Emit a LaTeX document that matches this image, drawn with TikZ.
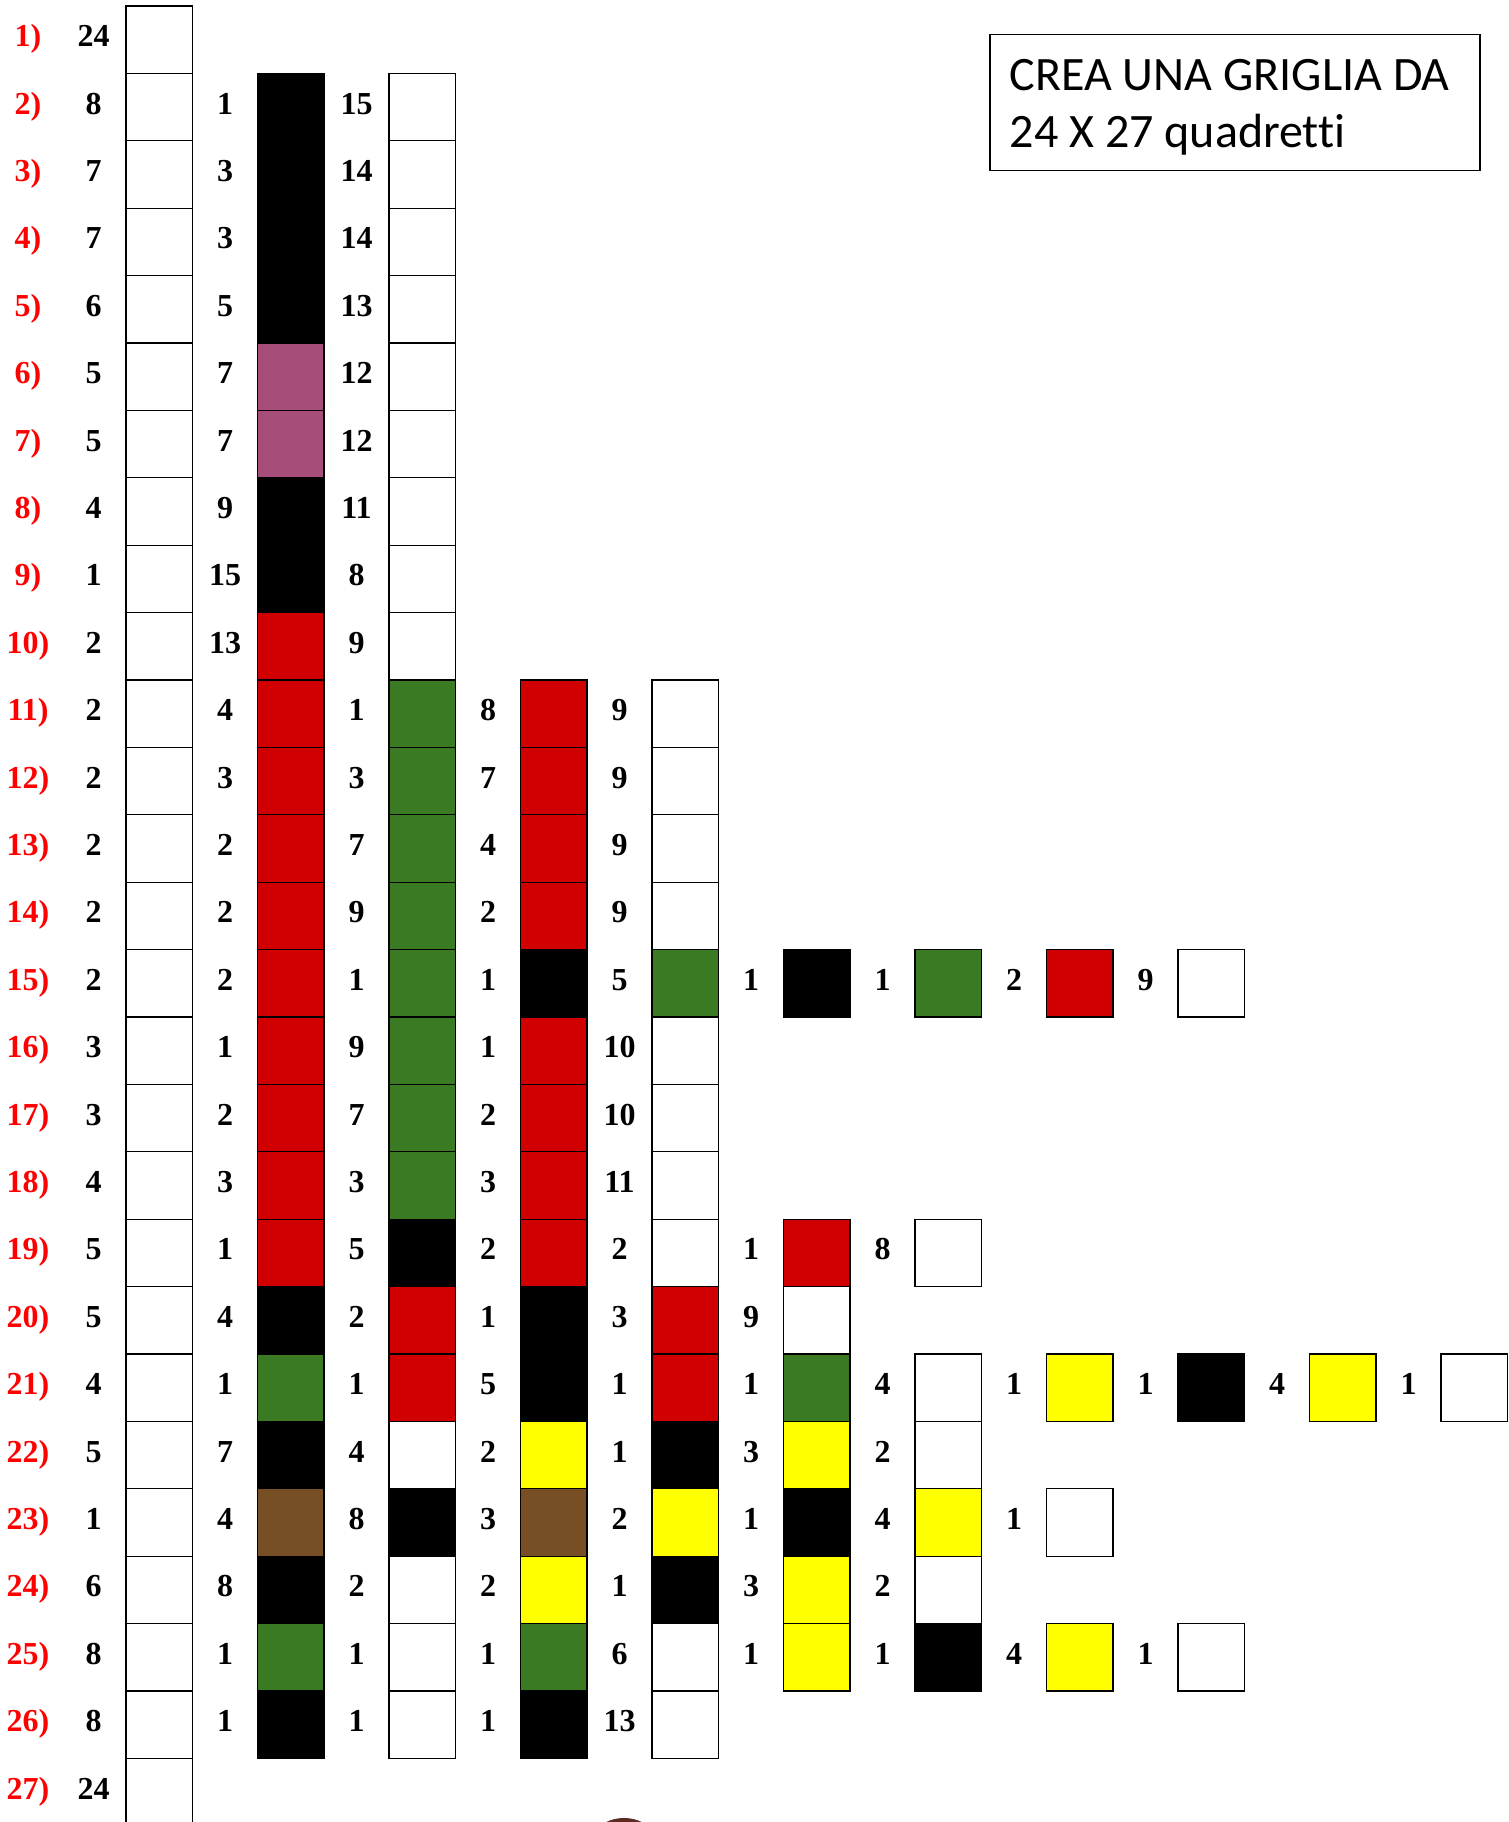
\documentclass[tikz,border=0pt]{standalone}
\usepackage{fontspec}
\setmainfont{Liberation Serif}
\newfontfamily\titlefont[Ligatures={NoCommon,NoContextual}]{Carlito}
\definecolor{cK}{HTML}{000000}
\definecolor{cW}{HTML}{FFFFFF}
\definecolor{cR}{HTML}{D00000}
\definecolor{cG}{HTML}{3A7A22}
\definecolor{cP}{HTML}{A64D79}
\definecolor{cY}{HTML}{FFFF00}
\definecolor{cB}{HTML}{784F24}
\definecolor{lblred}{HTML}{FF0000}
\definecolor{arcbrown}{HTML}{5E2A24}
\begin{document}
\begin{tikzpicture}[x=1pt,y=-1pt,
  cell/.style={draw=black, line width=1.3pt, minimum width=66.5pt, minimum height=67.4pt, inner sep=0pt, outer sep=0pt},
  num/.style={font=\fontsize{32}{32}\selectfont\bfseries, anchor=base, inner sep=0pt},
  rowlbl/.style={num, text=lblred},
  titletxt/.style={font=\titlefont\fontsize{48}{57}\selectfont, anchor=base west, inner sep=0pt}]
\useasboundingbox (0,0) rectangle (1508,1822);
\clip (0,0) rectangle (1508,1822);
\foreach \r/\lst in {
  1/{24/W},
  2/{8/W,1/K,15/W},
  3/{7/W,3/K,14/W},
  4/{7/W,3/K,14/W},
  5/{6/W,5/K,13/W},
  6/{5/W,7/P,12/W},
  7/{5/W,7/P,12/W},
  8/{4/W,9/K,11/W},
  9/{1/W,15/K,8/W},
  10/{2/W,13/R,9/W},
  11/{2/W,4/R,1/G,8/R,9/W},
  12/{2/W,3/R,3/G,7/R,9/W},
  13/{2/W,2/R,7/G,4/R,9/W},
  14/{2/W,2/R,9/G,2/R,9/W},
  15/{2/W,2/R,1/G,1/K,5/G,1/K,1/G,2/R,9/W},
  16/{3/W,1/R,9/G,1/R,10/W},
  17/{3/W,2/R,7/G,2/R,10/W},
  18/{4/W,3/R,3/G,3/R,11/W},
  19/{5/W,1/R,5/K,2/R,2/W,1/R,8/W},
  20/{5/W,4/K,2/R,1/K,3/R,9/W},
  21/{4/W,1/G,1/R,5/K,1/R,1/G,4/W,1/Y,1/K,4/Y,1/W},
  22/{5/W,7/K,4/W,2/Y,1/K,3/Y,2/W},
  23/{1/W,4/B,8/K,3/B,2/Y,1/K,4/Y,1/W},
  24/{6/W,8/K,2/W,2/Y,1/K,3/Y,2/W},
  25/{8/W,1/G,1/W,1/G,6/W,1/Y,1/K,4/Y,1/W},
  26/{8/W,1/K,1/W,1/K,13/W},
  27/{24/W}} {
  \pgfmathsetmacro\yc{39.7+67.4*(\r-1)}
  \node[rowlbl] (lbl-\r) at (28,\yc+7) {\r)};
  \foreach \n/\c [count=\k from 0] in \lst {
    \pgfmathsetmacro\xb{159.25+131.5*\k}
    \pgfmathsetmacro\xn{93.5+131.5*\k}
    \node[num] (n-\r-\k) at (\xn,\yc+7) {\n};
    \node[cell, fill=c\c] (b-\r-\k) at (\xb,\yc) {};
  }
}
\node[draw=black, line width=1.5pt, minimum width=490pt, minimum height=136pt, inner sep=0pt, anchor=north west] (title) at (989,33.7) {};
\node[titletxt] (title1) at (1009.6,90.6) {CREA UNA GRIGLIA DA};
\node[titletxt] (title2) at (1009.6,147.5) {24 X 27 quadretti};
\fill[arcbrown] (624,1842) ellipse [x radius=32, y radius=24];
\end{tikzpicture}
\end{document}
